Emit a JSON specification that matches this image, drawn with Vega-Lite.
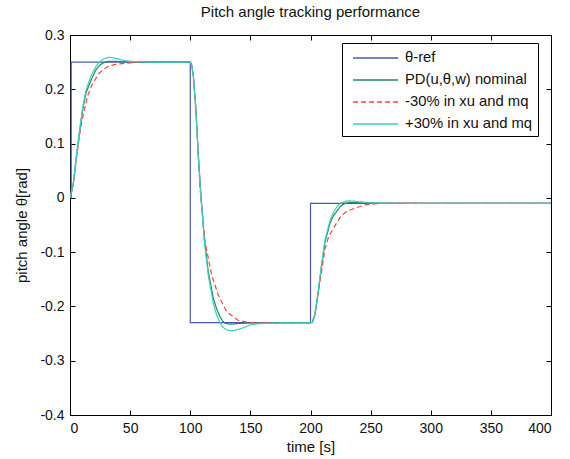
{
  "$schema": "https://vega.github.io/schema/vega-lite/v6.json",
  "width": 481,
  "height": 380,
  "autosize": "none",
  "padding": {"left": 70, "top": 35, "right": 19, "bottom": 44},
  "background": "white",
  "title": {"text": "Pitch angle tracking performance", "fontSize": 15, "font": "Liberation Sans", "fontWeight": "normal", "color": "#111", "offset": 8},
  "config": {
    "view": {"stroke": "#000", "strokeWidth": 1},
    "font": "Liberation Sans",
    "axis": {"grid": false, "domainColor": "#000", "tickColor": "#000", "labelColor": "#111", "titleColor": "#111", "labelFont": "Liberation Sans", "titleFont": "Liberation Sans", "labelFontSize": 14, "titleFontSize": 15, "titleFontWeight": "normal", "tickSize": -5, "labelPadding": 11},
    "legend": {"labelFont": "Liberation Sans", "labelFontSize": 14.8, "labelColor": "#111"}
  },
  "datasets": {
    "ref": [
      {"s": "θ-ref", "t": 0, "y": 0},
      {"s": "θ-ref", "t": 1, "y": 0.25},
      {"s": "θ-ref", "t": 100, "y": -0.23},
      {"s": "θ-ref", "t": 200, "y": -0.01},
      {"s": "θ-ref", "t": 400, "y": -0.01}
    ],
    "resp": [
      {"s": "PD(u,θ,w) nominal", "t": 0, "y": 0},
      {"s": "PD(u,θ,w) nominal", "t": 1.5, "y": 0.012},
      {"s": "PD(u,θ,w) nominal", "t": 2.8, "y": 0.027},
      {"s": "PD(u,θ,w) nominal", "t": 5, "y": 0.07},
      {"s": "PD(u,θ,w) nominal", "t": 7.8, "y": 0.119},
      {"s": "PD(u,θ,w) nominal", "t": 10.5, "y": 0.162},
      {"s": "PD(u,θ,w) nominal", "t": 13.3, "y": 0.193},
      {"s": "PD(u,θ,w) nominal", "t": 17.5, "y": 0.217},
      {"s": "PD(u,θ,w) nominal", "t": 21.6, "y": 0.236},
      {"s": "PD(u,θ,w) nominal", "t": 25, "y": 0.245},
      {"s": "PD(u,θ,w) nominal", "t": 28, "y": 0.249},
      {"s": "PD(u,θ,w) nominal", "t": 32, "y": 0.2515},
      {"s": "PD(u,θ,w) nominal", "t": 38, "y": 0.2515},
      {"s": "PD(u,θ,w) nominal", "t": 45, "y": 0.2505},
      {"s": "PD(u,θ,w) nominal", "t": 60, "y": 0.25},
      {"s": "PD(u,θ,w) nominal", "t": 100, "y": 0.25},
      {"s": "PD(u,θ,w) nominal", "t": 101, "y": 0.246},
      {"s": "PD(u,θ,w) nominal", "t": 102.5, "y": 0.226},
      {"s": "PD(u,θ,w) nominal", "t": 104.5, "y": 0.171},
      {"s": "PD(u,θ,w) nominal", "t": 106.7, "y": 0.079},
      {"s": "PD(u,θ,w) nominal", "t": 108.9, "y": 0.005},
      {"s": "PD(u,θ,w) nominal", "t": 111.7, "y": -0.0745},
      {"s": "PD(u,θ,w) nominal", "t": 115, "y": -0.136},
      {"s": "PD(u,θ,w) nominal", "t": 119.2, "y": -0.185},
      {"s": "PD(u,θ,w) nominal", "t": 122, "y": -0.205},
      {"s": "PD(u,θ,w) nominal", "t": 124.7, "y": -0.219},
      {"s": "PD(u,θ,w) nominal", "t": 127, "y": -0.227},
      {"s": "PD(u,θ,w) nominal", "t": 129, "y": -0.231},
      {"s": "PD(u,θ,w) nominal", "t": 133, "y": -0.2325},
      {"s": "PD(u,θ,w) nominal", "t": 140, "y": -0.2315},
      {"s": "PD(u,θ,w) nominal", "t": 150, "y": -0.2305},
      {"s": "PD(u,θ,w) nominal", "t": 170, "y": -0.23},
      {"s": "PD(u,θ,w) nominal", "t": 200, "y": -0.23},
      {"s": "PD(u,θ,w) nominal", "t": 201.5, "y": -0.23},
      {"s": "PD(u,θ,w) nominal", "t": 203.7, "y": -0.216},
      {"s": "PD(u,θ,w) nominal", "t": 206.5, "y": -0.173},
      {"s": "PD(u,θ,w) nominal", "t": 209.3, "y": -0.124},
      {"s": "PD(u,θ,w) nominal", "t": 212.1, "y": -0.081},
      {"s": "PD(u,θ,w) nominal", "t": 216.2, "y": -0.047},
      {"s": "PD(u,θ,w) nominal", "t": 219, "y": -0.033},
      {"s": "PD(u,θ,w) nominal", "t": 221.8, "y": -0.025},
      {"s": "PD(u,θ,w) nominal", "t": 225, "y": -0.015},
      {"s": "PD(u,θ,w) nominal", "t": 228.7, "y": -0.01},
      {"s": "PD(u,θ,w) nominal", "t": 233, "y": -0.0085},
      {"s": "PD(u,θ,w) nominal", "t": 240, "y": -0.009},
      {"s": "PD(u,θ,w) nominal", "t": 250, "y": -0.0098},
      {"s": "PD(u,θ,w) nominal", "t": 270, "y": -0.01},
      {"s": "PD(u,θ,w) nominal", "t": 400, "y": -0.01},

      {"s": "-30% in xu and mq", "t": 0, "y": 0},
      {"s": "-30% in xu and mq", "t": 2.8, "y": 0.026},
      {"s": "-30% in xu and mq", "t": 5, "y": 0.068},
      {"s": "-30% in xu and mq", "t": 7.8, "y": 0.113},
      {"s": "-30% in xu and mq", "t": 9.1, "y": 0.131},
      {"s": "-30% in xu and mq", "t": 12, "y": 0.163},
      {"s": "-30% in xu and mq", "t": 15, "y": 0.19},
      {"s": "-30% in xu and mq", "t": 18.9, "y": 0.211},
      {"s": "-30% in xu and mq", "t": 24.4, "y": 0.23},
      {"s": "-30% in xu and mq", "t": 28, "y": 0.237},
      {"s": "-30% in xu and mq", "t": 32.7, "y": 0.243},
      {"s": "-30% in xu and mq", "t": 38, "y": 0.246},
      {"s": "-30% in xu and mq", "t": 46.6, "y": 0.248},
      {"s": "-30% in xu and mq", "t": 60, "y": 0.2505},
      {"s": "-30% in xu and mq", "t": 80, "y": 0.251},
      {"s": "-30% in xu and mq", "t": 100, "y": 0.2505},
      {"s": "-30% in xu and mq", "t": 101, "y": 0.247},
      {"s": "-30% in xu and mq", "t": 102.5, "y": 0.228},
      {"s": "-30% in xu and mq", "t": 105.3, "y": 0.14},
      {"s": "-30% in xu and mq", "t": 108.1, "y": 0.018},
      {"s": "-30% in xu and mq", "t": 112.3, "y": -0.081},
      {"s": "-30% in xu and mq", "t": 117.8, "y": -0.142},
      {"s": "-30% in xu and mq", "t": 123.3, "y": -0.179},
      {"s": "-30% in xu and mq", "t": 130.3, "y": -0.21},
      {"s": "-30% in xu and mq", "t": 140, "y": -0.226},
      {"s": "-30% in xu and mq", "t": 151, "y": -0.23},
      {"s": "-30% in xu and mq", "t": 170, "y": -0.2305},
      {"s": "-30% in xu and mq", "t": 200, "y": -0.2305},
      {"s": "-30% in xu and mq", "t": 201.5, "y": -0.229},
      {"s": "-30% in xu and mq", "t": 203.7, "y": -0.213},
      {"s": "-30% in xu and mq", "t": 207.9, "y": -0.154},
      {"s": "-30% in xu and mq", "t": 212, "y": -0.095},
      {"s": "-30% in xu and mq", "t": 215, "y": -0.072},
      {"s": "-30% in xu and mq", "t": 219, "y": -0.056},
      {"s": "-30% in xu and mq", "t": 225.9, "y": -0.032},
      {"s": "-30% in xu and mq", "t": 231, "y": -0.024},
      {"s": "-30% in xu and mq", "t": 237, "y": -0.019},
      {"s": "-30% in xu and mq", "t": 245.3, "y": -0.013},
      {"s": "-30% in xu and mq", "t": 255, "y": -0.0105},
      {"s": "-30% in xu and mq", "t": 270, "y": -0.0095},
      {"s": "-30% in xu and mq", "t": 300, "y": -0.01},
      {"s": "-30% in xu and mq", "t": 400, "y": -0.01},

      {"s": "+30% in xu and mq", "t": 0, "y": 0},
      {"s": "+30% in xu and mq", "t": 2.8, "y": 0.028},
      {"s": "+30% in xu and mq", "t": 5, "y": 0.072},
      {"s": "+30% in xu and mq", "t": 7.8, "y": 0.122},
      {"s": "+30% in xu and mq", "t": 10.5, "y": 0.166},
      {"s": "+30% in xu and mq", "t": 13.3, "y": 0.198},
      {"s": "+30% in xu and mq", "t": 17.5, "y": 0.225},
      {"s": "+30% in xu and mq", "t": 21.6, "y": 0.242},
      {"s": "+30% in xu and mq", "t": 25, "y": 0.251},
      {"s": "+30% in xu and mq", "t": 28, "y": 0.256},
      {"s": "+30% in xu and mq", "t": 32.7, "y": 0.259},
      {"s": "+30% in xu and mq", "t": 37, "y": 0.2575},
      {"s": "+30% in xu and mq", "t": 42, "y": 0.2545},
      {"s": "+30% in xu and mq", "t": 50, "y": 0.2515},
      {"s": "+30% in xu and mq", "t": 60, "y": 0.2505},
      {"s": "+30% in xu and mq", "t": 70, "y": 0.25},
      {"s": "+30% in xu and mq", "t": 100, "y": 0.25},
      {"s": "+30% in xu and mq", "t": 101, "y": 0.246},
      {"s": "+30% in xu and mq", "t": 102.5, "y": 0.225},
      {"s": "+30% in xu and mq", "t": 104.5, "y": 0.168},
      {"s": "+30% in xu and mq", "t": 106.7, "y": 0.075},
      {"s": "+30% in xu and mq", "t": 108.9, "y": 0.0},
      {"s": "+30% in xu and mq", "t": 111.7, "y": -0.08},
      {"s": "+30% in xu and mq", "t": 115, "y": -0.143},
      {"s": "+30% in xu and mq", "t": 119.2, "y": -0.195},
      {"s": "+30% in xu and mq", "t": 122, "y": -0.216},
      {"s": "+30% in xu and mq", "t": 124.7, "y": -0.23},
      {"s": "+30% in xu and mq", "t": 127, "y": -0.238},
      {"s": "+30% in xu and mq", "t": 130, "y": -0.243},
      {"s": "+30% in xu and mq", "t": 134.4, "y": -0.245},
      {"s": "+30% in xu and mq", "t": 140, "y": -0.2425},
      {"s": "+30% in xu and mq", "t": 145, "y": -0.2385},
      {"s": "+30% in xu and mq", "t": 151, "y": -0.233},
      {"s": "+30% in xu and mq", "t": 160, "y": -0.2315},
      {"s": "+30% in xu and mq", "t": 175, "y": -0.2305},
      {"s": "+30% in xu and mq", "t": 200, "y": -0.23},
      {"s": "+30% in xu and mq", "t": 201.5, "y": -0.229},
      {"s": "+30% in xu and mq", "t": 203.7, "y": -0.214},
      {"s": "+30% in xu and mq", "t": 206.5, "y": -0.17},
      {"s": "+30% in xu and mq", "t": 209.3, "y": -0.12},
      {"s": "+30% in xu and mq", "t": 212.1, "y": -0.077},
      {"s": "+30% in xu and mq", "t": 216.2, "y": -0.042},
      {"s": "+30% in xu and mq", "t": 219, "y": -0.027},
      {"s": "+30% in xu and mq", "t": 221.8, "y": -0.017},
      {"s": "+30% in xu and mq", "t": 225, "y": -0.01},
      {"s": "+30% in xu and mq", "t": 228.7, "y": -0.0065},
      {"s": "+30% in xu and mq", "t": 231.4, "y": -0.0055},
      {"s": "+30% in xu and mq", "t": 236, "y": -0.006},
      {"s": "+30% in xu and mq", "t": 242, "y": -0.0075},
      {"s": "+30% in xu and mq", "t": 250, "y": -0.009},
      {"s": "+30% in xu and mq", "t": 260, "y": -0.0098},
      {"s": "+30% in xu and mq", "t": 280, "y": -0.01},
      {"s": "+30% in xu and mq", "t": 400, "y": -0.01}
    ]
  },
  "encoding": {
    "color": {
      "field": "s", "type": "nominal",
      "scale": {"domain": ["θ-ref", "PD(u,θ,w) nominal", "-30% in xu and mq", "+30% in xu and mq"], "range": ["#4a58b0", "#1f8a5c", "#f04848", "#3ccfc4"]},
      "legend": {"title": null, "orient": "none", "legendX": 272, "legendY": 8, "symbolType": "M-0.444,0H4.556", "symbolSize": 324, "symbolStrokeWidth": 1.3, "symbolFillColor": "transparent", "fillColor": "white", "strokeColor": "#000", "padding": 5, "labelOffset": 38, "rowPadding": 5, "labelLimit": 300}
    },
    "strokeDash": {
      "field": "s", "type": "nominal",
      "scale": {"domain": ["θ-ref", "PD(u,θ,w) nominal", "-30% in xu and mq", "+30% in xu and mq"], "range": [[1, 0], [1, 0], [5, 3], [1, 0]]},
      "legend": {"title": null, "orient": "none", "legendX": 272, "legendY": 8, "symbolType": "M-0.444,0H4.556", "symbolSize": 324, "symbolStrokeWidth": 1.3, "symbolFillColor": "transparent", "fillColor": "white", "strokeColor": "#000", "padding": 5, "labelOffset": 38, "rowPadding": 5, "labelLimit": 300}
    }
  },
  "layer": [
    {
      "data": {"name": "ref"},
      "mark": {"type": "line", "interpolate": "step-after", "strokeWidth": 1.2, "clip": true},
      "encoding": {
        "x": {"field": "t", "type": "quantitative", "scale": {"domain": [0, 400], "nice": false}, "axis": {"orient": "bottom", "title": "time [s]", "values": [0, 50, 100, 150, 200, 250, 300, 350, 400], "titlePadding": 4}},
        "y": {"field": "y", "type": "quantitative", "scale": {"domain": [-0.4, 0.3], "nice": false, "zero": false}, "axis": {"orient": "left", "title": "pitch angle θ[rad]", "values": [-0.4, -0.3, -0.2, -0.1, 0, 0.1, 0.2, 0.3], "labelExpr": "abs(datum.value) < 1e-9 ? '0' : (datum.value < 0 ? '-' + format(-datum.value, '.1f') : format(datum.value, '.1f'))", "titlePadding": 10}}
      }
    },
    {
      "data": {"name": "resp"},
      "mark": {"type": "line", "strokeWidth": 1.2, "clip": true},
      "encoding": {
        "x": {"field": "t", "type": "quantitative", "scale": {"domain": [0, 400], "nice": false}, "axis": {"orient": "top", "title": null, "labels": false, "domain": false, "values": [0, 50, 100, 150, 200, 250, 300, 350, 400]}},
        "y": {"field": "y", "type": "quantitative", "scale": {"domain": [-0.4, 0.3], "nice": false, "zero": false}, "axis": {"orient": "right", "title": null, "labels": false, "domain": false, "values": [-0.4, -0.3, -0.2, -0.1, 0, 0.1, 0.2, 0.3]}}
      }
    }
  ],
  "resolve": {"axis": {"x": "independent", "y": "independent"}}
}
